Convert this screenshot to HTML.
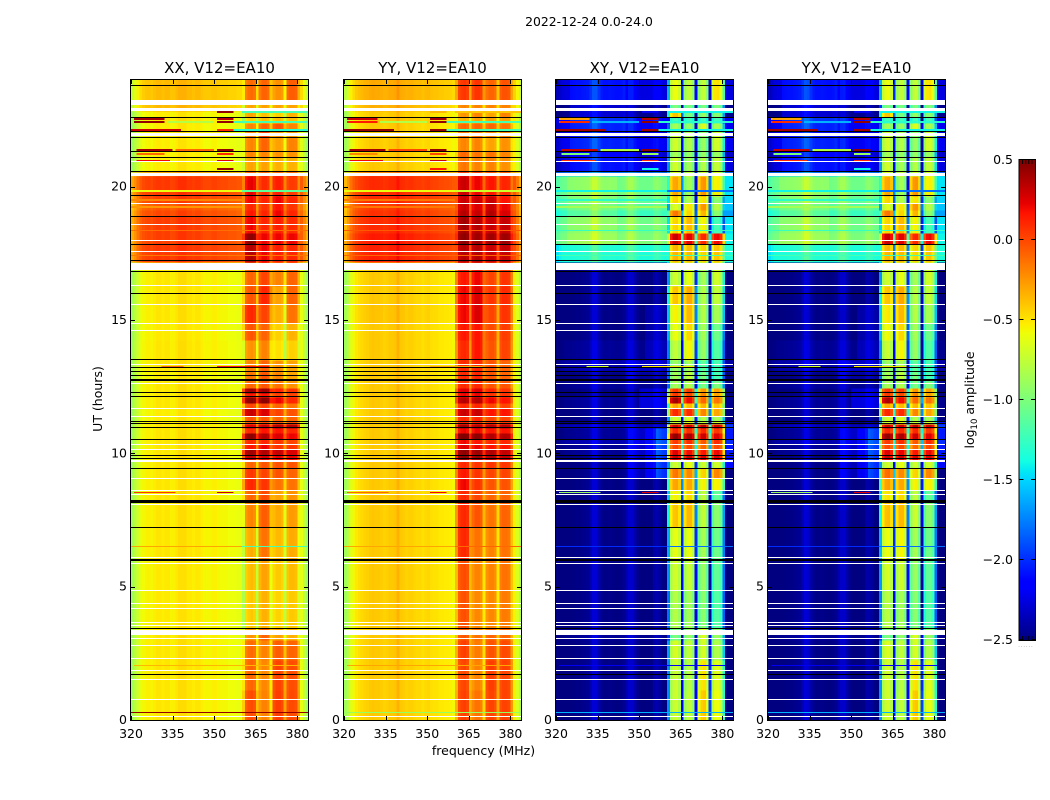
<!DOCTYPE html>
<html lang="en">
<head>
<meta charset="utf-8">
<title>2022-12-24 0.0-24.0</title>
<style>
html,body{margin:0;padding:0;background:#fff;}
svg{display:block;font-family:"DejaVu Sans","Liberation Sans",sans-serif;fill:#000;}
</style>
</head>
<body>
<svg id="chart" xmlns="http://www.w3.org/2000/svg" width="1050" height="800" viewBox="0 0 1050 800">
<rect x="0" y="0" width="1050" height="800" fill="#fff"/>
<text x="589" y="26" font-size="12.4" text-anchor="middle">2022-12-24 0.0-24.0</text>
<text x="483.5" y="755" font-size="12.5" text-anchor="middle">frequency (MHz)</text>
<text transform="translate(102,399) rotate(-90)" font-size="12.5" text-anchor="middle">UT (hours)</text>
<text transform="translate(974,400) rotate(-90)" font-size="12.5" text-anchor="middle">log<tspan font-size="8.5" dy="3">10</tspan><tspan dy="-3"> amplitude</tspan></text>
<g id="panels"></g>
<g id="colorbar"></g>
</svg>
<script>
// ---------- axis data ----------
const panelTitles = ['XX, V12=EA10', 'YY, V12=EA10', 'XY, V12=EA10', 'YX, V12=EA10'];
const freqTicks = [320, 335, 350, 365, 380];
const utTicks = [0, 5, 10, 15, 20];
const colorbarTicks = [0.5, 0.0, -0.5, -1.0, -1.5, -2.0, -2.5];
const freqDomain = [320, 383.8];
const utDomain = [0, 24];
const colorDomain = [-2.5, 0.5];

// channel centres start (MHz)
const channelsMHz = [320,321,322,323,324,325,326,327,328,329,330,331,332,333,334,335,336,337,338,339,340,341,342,343,344,345,346,347,348,349,350,351,352,353,354,355,356,357,358,359,360,361,362,363,364,365,366,367,368,369,370,371,372,373,374,375,376,377,378,379,380,381,382,383];
// first channel of sub-bands A, B, C, D and of the upper edge
const subbandStarts = [360, 366, 371, 376, 381];

// UT (hours) at which each time block starts
const utRowStarts = [0,1.125,2.25,3,3.45,4.875,6,7.2375,8.25,8.625,9.075,9.45,9.75,9.9375,10.1625,10.35,10.5375,10.7625,10.95,11.1,11.2125,11.4,11.7,11.8875,12.1125,12.2625,12.45,12.7125,13.05,13.5,14.25,14.8875,15.6,16.275,16.875,17.175,17.85,18.2625,18.9,19.125,19.3875,19.65,20.4,20.55,21.1125,21.3375,21.8625,22.0875,22.3875,22.6125,22.8375,23.0625,23.25];

// log10 amplitude per time block: [low band, A, B, C, D]
const levelsXX = [
[-.56,-.02,-.2,.02,-.02],[-.56,-.1,-.22,0,-.03],[-.56,-.12,-.2,-.08,-.1],[-.56,-.25,-.1,-.3,-.35],[-.57,-.42,-.35,-.46,-.43],
[-.57,-.38,-.3,-.43,-.38],[-.56,-.33,-.15,-.38,-.33],[-.56,-.2,-.08,-.33,-.28],[-.56,-.1,-.02,-.3,-.25],[-.56,.1,.05,-.15,-.15],
[-.56,.05,0,-.05,-.1],[-.56,-.1,-.05,-.05,-.05],[-.56,.3,.25,.2,.2],[-.56,.4,.35,.3,.25],[-.56,.15,.2,.05,.05],
[-.56,.1,.1,.05,0],[-.56,.45,.35,.25,.2],[-.56,.1,.15,.15,.1],[-.56,.25,.3,.35,.35],[-.56,-.05,-.05,-.05,-.05],
[-.58,-.05,-.05,-.1,-.1],[-.58,.3,.25,0,-.05],[-.56,0,0,-.1,-.15],[-.56,.45,.45,.2,.1],[-.56,.15,.15,0,0],
[-.56,.4,.4,.1,.05],[-.56,-.1,-.05,-.15,-.25],[-.58,-.15,-.05,-.2,-.3],[-.56,-.2,-.1,-.25,-.3],[-.56,-.25,-.2,-.5,-.45],
[-.57,-.05,-.1,-.45,-.35],[-.56,.1,0,-.35,-.15],[-.56,-.05,.1,-.3,-.1],[-.56,-.1,0,-.2,-.1],[-.56,-.1,0,-.2,-.1],
[0,.35,.2,.12,.1],[-.02,.45,.2,.2,.2],[-.02,.2,.1,.12,.08],[-.05,.15,.1,.2,.1],[-.1,.1,.05,.15,.05],
[-.03,.2,.1,.2,.1],[0,.22,.08,.12,.03],[-.1,.1,.1,.1,.1],[-.58,-.3,-.3,-.35,-.35],[-.58,-.2,-.2,-.25,-.25],
[-.58,-.2,-.1,-.3,-.2],[-.56,-.2,0,-.25,-.25],[-.58,-.2,-.1,-.05,-.2],[-.56,-.45,-.4,-.4,-.4],[-.58,-.3,-.4,-.45,-.35],
[-.42,-.3,-.3,-.3,-.3],[-.42,-.3,-.3,-.3,-.3],[-.42,-.12,-.1,-.25,-.08]];
const levelsYY = [
[-.46,.02,-.15,0,0],[-.46,0,-.2,.02,0],[-.46,.02,-.18,-.05,-.02],[-.46,-.05,-.15,-.1,-.1],[-.46,-.03,-.22,-.22,-.18],
[-.46,-.02,-.2,-.2,-.15],[-.46,.1,-.15,-.2,-.15],[-.46,.1,-.05,-.15,-.1],[-.46,.1,0,-.1,-.1],[-.46,.2,.05,-.05,-.05],
[-.46,.15,.05,0,0],[-.46,.1,.05,.05,.05],[-.46,.45,.4,.35,.3],[-.46,.45,.4,.35,.3],[-.46,.25,.2,.15,.15],
[-.46,.2,.15,.1,.1],[-.46,.5,.45,.35,.35],[-.46,.2,.2,.15,.15],[-.46,.4,.35,.35,.35],[-.46,.1,.1,.05,.05],
[-.46,.1,.1,0,0],[-.46,.3,.3,.15,.15],[-.46,.1,.1,0,0],[-.46,.35,.35,.2,.15],[-.46,.2,.2,.05,.05],
[-.46,.25,.25,.1,.05],[-.46,.1,.1,-.05,-.05],[-.46,.1,.1,-.05,-.1],[-.46,.1,.1,-.05,-.1],[-.46,.1,.15,-.05,0],
[-.46,.15,.15,-.02,.02],[-.44,.2,.25,0,.05],[-.46,.2,.25,.05,.08],[-.46,.15,.2,0,.05],[-.46,.1,.1,0,0],
[.08,.35,.35,.3,.3],[.1,.45,.4,.4,.4],[.05,.4,.35,.3,.3],[.03,.35,.3,.35,.25],[0,.3,.25,.3,.2],
[.05,.3,.3,.3,.15],[.05,.3,.2,.15,.1],[0,.2,.2,.1,.1],[-.46,-.15,-.2,-.2,-.25],[-.46,-.1,-.15,-.15,-.2],
[-.46,-.2,-.2,-.3,-.25],[-.46,-.15,-.15,-.2,-.2],[-.46,-.1,-.1,-.1,-.15],[-.44,-.35,-.3,-.3,-.3],[-.46,-.25,-.2,-.3,-.2],
[-.38,-.2,-.2,-.2,-.2],[-.38,-.2,-.2,-.2,-.2],[-.36,.05,.05,-.1,-.05]];
const levelsXY = [
[-2.5,-.72,-.75,-.42,-.6],[-2.5,-.72,-.78,-.5,-.65],[-2.5,-.68,-.75,-.68,-.82],[-2.46,-1,-.9,-.65,-.9],[-2.5,-.8,-.85,-.95,-1.15],
[-2.5,-.7,-.72,-.9,-1.1],[-2.5,-.62,-.6,-.85,-1.05],[-2.5,-.4,-.35,-.75,-.95],[-2.5,-.55,-.45,-.75,-1.1],[-2.5,-.3,-.3,-.55,-.55],
[-2.5,-.15,-.2,-.45,-.2],[-2.5,-.7,-.6,-.7,-.7],[-2.5,.3,.3,.25,.25],[-2.46,.25,.2,.15,.2],[-2.46,0,0,-.1,0],
[-2.4,.05,.1,-.05,.1],[-2.46,.45,.4,.3,.25],[-2.46,.1,.1,.1,.05],[-2.35,.3,.3,.35,.3],[-2.5,-.7,-.6,-.7,-.7],
[-2.5,-.7,-.65,-.8,-.85],[-2.5,.1,.1,-.2,-.3],[-2.46,-.3,-.35,-.35,-.4],[-2.46,.4,.2,-.1,-.15],[-2.5,.05,0,-.2,-.3],
[-2.5,.05,.05,-.25,-.3],[-2.46,-.85,-.8,-1,-1],[-2.5,-.85,-.75,-1,-1.2],[-2.4,-.9,-.85,-1.1,-1.2],[-2.46,-.75,-.55,-.9,-1.15],
[-2.5,-.6,-.45,-.85,-1.05],[-2.5,-.55,-.35,-.8,-.85],[-2.5,-.4,-.3,-.8,-.75],[-2.5,-.7,-.6,-.85,-.7],[-2.5,-.7,-.7,-.8,-.7],
[-1.35,-.35,-.35,-.45,-.4],[-1,.3,.25,.1,.2],[-1.05,-.45,-.35,-.55,-1.2],[-1.25,-.15,-.45,-.35,-.95],[-1.15,-.65,-.5,-.25,-.8],
[-1.1,-.45,-.8,-.5,-.95],[-1.05,-.3,-.85,-.25,-.55],[-1.5,-.6,-.6,-.6,-.6],[-2.25,-.7,-.85,-.8,-.75],[-2.3,-.85,-.9,-.9,-.9],
[-2.2,-.7,-.8,-.9,-.7],[-2.25,-.7,-.8,-.9,-.7],[-2.2,-.85,-.9,-.65,-.85],[-2.15,-1.2,-1.2,-1.2,-1.2],[-2.46,-.4,-1,-.9,-.95],
[-2.46,-1,-1,-1,-1],[-2.46,-1,-1,-1,-1],[-2.25,-.6,-.75,-.75,-.5]];
const levelsYX = [
[-2.5,-.7,-.75,-.42,-.62],[-2.5,-.7,-.78,-.5,-.65],[-2.5,-.66,-.75,-.68,-.82],[-2.46,-1,-.9,-.65,-.9],[-2.5,-.78,-.85,-.95,-1.15],
[-2.5,-.68,-.7,-.9,-1.1],[-2.5,-.6,-.55,-.85,-1.05],[-2.5,-.38,-.35,-.72,-.95],[-2.5,-.5,-.45,-.75,-1.1],[-2.5,-.28,-.3,-.55,-.55],
[-2.5,-.12,-.2,-.45,-.2],[-2.5,-.7,-.6,-.7,-.7],[-2.5,.3,.3,.25,.25],[-2.46,.25,.22,.15,.2],[-2.46,0,0,-.1,0],
[-2.4,.05,.1,-.05,.1],[-2.46,.45,.4,.3,.25],[-2.46,.1,.1,.1,.05],[-2.35,.3,.3,.35,.3],[-2.5,-.7,-.6,-.7,-.7],
[-2.5,-.7,-.65,-.8,-.85],[-2.5,.1,.1,-.2,-.3],[-2.46,-.3,-.35,-.35,-.4],[-2.46,.38,.2,-.1,-.15],[-2.5,.05,0,-.2,-.3],
[-2.5,.05,.05,-.25,-.3],[-2.46,-.85,-.8,-1,-1],[-2.5,-.85,-.75,-1,-1.2],[-2.4,-.9,-.85,-1.1,-1.2],[-2.46,-.72,-.55,-.9,-1.15],
[-2.5,-.58,-.45,-.85,-1.05],[-2.5,-.52,-.35,-.8,-.85],[-2.5,-.4,-.3,-.78,-.75],[-2.5,-.7,-.6,-.85,-.7],[-2.5,-.7,-.7,-.8,-.7],
[-1.35,-.35,-.35,-.45,-.4],[-1,.3,.25,.1,.2],[-1.05,-.45,-.35,-.55,-1.2],[-1.25,-.15,-.45,-.35,-.95],[-1.15,-.65,-.5,-.25,-.8],
[-1.1,-.45,-.8,-.5,-.95],[-1.05,-.3,-.85,-.25,-.55],[-1.5,-.6,-.6,-.6,-.6],[-2.25,-.7,-.85,-.8,-.75],[-2.3,-.85,-.9,-.9,-.9],
[-2.2,-.7,-.8,-.9,-.7],[-2.25,-.7,-.8,-.9,-.7],[-2.2,-.85,-.9,-.65,-.85],[-2.15,-1.2,-1.2,-1.2,-1.2],[-2.46,-.4,-1,-.9,-.95],
[-2.46,-1,-1,-1,-1],[-2.46,-1,-1,-1,-1],[-2.25,-.6,-.75,-.75,-.5]];

// per-channel bandpass offset from the block level (log10)
const bandpassXX = [-.3,-.22,-.12,-.05,0,.02,.03,.01,.04,.06,.06,.04,.06,.06,.02,.03,.06,.09,.09,.09,.06,.06,.04,.06,.06,.03,.01,.01,.01,.03,.03,.01,0,0,0,-.02,-.02,-.02,-.04,-.04,-.4,-.05,0,.02,-.02,-.35,-.05,.02,.02,-.02,-.3,-.03,.02,.02,-.02,-.3,-.02,.02,.02,0,-.25,-.05,-.18,-.3];
const bandpassYY = [-.4,-.3,-.18,-.1,-.05,-.02,0,.02,.03,.05,.06,.05,.05,.04,.02,.03,.05,.05,.06,.12,.05,.04,.02,.03,.03,.01,0,0,-.02,0,.01,-.02,-.03,-.03,-.05,-.05,-.06,-.06,-.08,-.1,-.35,-.05,0,.02,-.02,-.35,-.05,.02,.02,-.02,-.3,-.03,.02,.02,-.02,-.3,-.02,.02,.02,0,-.25,-.08,-.2,-.38];
const bandpassXY = [-.1,-.05,-.02,0,0,0,.01,.02,.02,.03,.04,.05,.12,.22,.22,.12,.04,.02,.02,.03,.02,.01,.01,.02,.05,.12,.2,.2,.12,.03,0,0,0,0,.02,.1,.12,.07,.02,0,-1,-.15,0,.02,-.1,-1.4,-.15,0,0,-.15,-1.4,-.2,0,.02,-.2,-1.5,-.2,0,.02,-.1,-.7,0,0,0];
const bandpassYX = [-.1,-.05,-.02,0,0,0,.01,.02,.02,.03,.04,.06,.13,.22,.2,.11,.04,.02,.02,.03,.02,.01,.01,.02,.05,.12,.19,.2,.12,.03,0,0,0,0,.02,.1,.11,.07,.02,0,-1,-.15,0,.02,-.1,-1.4,-.15,0,0,-.15,-1.4,-.2,0,.02,-.2,-1.5,-.2,0,.02,-.1,-.7,0,0,0];

// diffuse cross-hand emission: [UT start, UT end, MHz start, MHz end, added log10]
const crossHaze = [
[8.7,10.9,346,352,.15],[8.7,10.9,352,356,.3],[8.7,10.9,356,360,.5],[9.4,11.2,381,384,.4],
[11.7,12.3,350,360,.2],[13.5,14.9,352,360,.1],[12.7,13.5,345,360,.08],
[17.2,20.4,381,384,-.4],[17.85,20.4,324,342,.1],[20.5,24,325,345,.15]];

// narrow interference streaks: [UT, MHz start, MHz end, XX, YY, XY and YX]
const rfiStreaks = [
[.29,320,384,.45,-.9,-1.6],[2.03,321,381,-.35,-.3,-2.2],[6.49,320,360,-.3,-.3,-2.0],[6.49,360,384,-1.2,-.1,-1.8],
[8.52,321,336,.05,-.1,-.9],[8.52,351,357,.3,.2,.25],[13.27,331,339,-.1,-.4,-.7],[13.27,351,370,.15,-.3,-.5],
[17.43,320,384,-.15,-.1,-1.2],[18.35,320,384,-.12,-.05,-1.25],[19.25,320,360,-.25,-.15,-.85],[19.5,320,360,-.2,-.15,-1.3],
[19.83,320,360,-.6,-.6,-1.4],[19.83,360,384,-1.1,-.7,-1.8],[20.65,351,357,.45,.15,-1.4],
[20.96,322,334,.2,.2,.1],[20.96,351,357,.25,.3,.1],[21.21,322,332,-.1,-.2,-1],[21.21,351,357,.1,0,-.9],
[21.36,322,335,.4,.4,.3],[21.36,336,350,-.1,0,-.8],[21.36,351,357,.45,.45,.45],[22.11,320,338,.3,.45,.4],
[22.11,351,357,.1,.45,.4],[22.11,357,384,-1.3,-1.2,-1.4],[22.43,321,332,.45,.15,.1],[22.43,333,350,-.8,-.8,-1.6],
[22.43,351,357,.45,.45,.45],[22.43,357,384,-1.2,-1.2,-1.3],[22.52,321,332,.4,.3,-.3],[22.52,351,357,.35,.4,.35],
[22.81,351,357,.45,-.35,-2.2],[22.81,360,384,-1.2,-.4,-1.4]];

// flagged (blank) time ranges: [UT start, UT end]
const blankRanges = [
[.1,.14],[.75,.79],[1.51,1.55],[1.83,1.87],[2.3,2.34],[2.76,2.8],[3.02,3.06],[3.19,3.38],[3.53,3.57],[3.63,3.67],
[4.17,4.21],[4.36,4.4],[4.84,4.88],[5.85,5.89],[6.08,6.12],[8.07,8.11],[8.42,8.46],[8.58,8.62],[9.05,9.09],[9.66,9.75],
[10.13,10.17],[10.32,10.36],[11.37,11.41],[11.67,11.71],[12.58,12.62],[13.21,13.25],[13.32,13.36],[14.6,14.64],[14.86,14.9],[15.57,15.61],
[16.26,16.3],[16.88,17.15],[17.55,17.59],[17.97,18.01],[18.57,18.61],[19.35,19.39],[20.38,20.5],[20.91,20.95],[21.88,21.92],[21.97,22.03],
[22.84,22.96],[23.06,23.25]];

// thin black scan-boundary lines: UT centre and thickness in hours
const scanLineUT = [1.71,3.44,6,7.23,8.19,9.44,9.8,9.93,10.53,10.95,11.1,11.2,12.14,12.27,12.74,12.9,13.05,13.2,13.53,16,16.83,17.24,17.84,18.89,19.65,20.55,21.1,21.33,21.86,22.08,22.6,23.775];
const scanLineHours = [.04,.04,.06,.04,.13,.04,.04,.04,.04,.04,.04,.04,.04,.04,.07,.04,.04,.04,.04,.04,.04,.04,.04,.04,.04,.04,.04,.04,.04,.04,.04,.04];

// ---------- layout (not data) ----------
const panelLefts = [131, 344, 556, 768];
const panelWidth = 177;
const panelTop = 80;
const panelBottom = 720;
const SVGNS = 'http://www.w3.org/2000/svg';
const panelLevels = [levelsXX, levelsYY, levelsXY, levelsYX];
const panelBandpass = [bandpassXX, bandpassYY, bandpassXY, bandpassYX];

function xScale(panel, f) {
  return panelLefts[panel] + (f - freqDomain[0]) / (freqDomain[1] - freqDomain[0]) * panelWidth;
}
function yScale(ut) {
  return panelBottom - (ut - utDomain[0]) / (utDomain[1] - utDomain[0]) * (panelBottom - panelTop);
}
function lerpStops(stops, p) {
  for (let i = 1; i < stops.length; i++) {
    if (p <= stops[i][0]) {
      const a = stops[i - 1], b = stops[i];
      return a[1] + (b[1] - a[1]) * (p - a[0]) / (b[0] - a[0]);
    }
  }
  return stops[stops.length - 1][1];
}
const jetR = [[0,0],[.35,0],[.66,1],[.89,1],[1,.5]];
const jetG = [[0,0],[.125,0],[.375,1],[.64,1],[.91,0],[1,0]];
const jetB = [[0,.5],[.11,1],[.34,1],[.65,0],[1,0]];
function colorOf(v) {
  const p = Math.min(1, Math.max(0, (v - colorDomain[0]) / (colorDomain[1] - colorDomain[0])));
  const c = [jetR, jetG, jetB].map(s => Math.round(255 * lerpStops(s, p)));
  return 'rgb(' + c[0] + ',' + c[1] + ',' + c[2] + ')';
}
function sectionOf(f) {
  if (f >= subbandStarts[4] || f < subbandStarts[0]) return 0;
  if (f < subbandStarts[1]) return 1;
  if (f < subbandStarts[2]) return 2;
  if (f < subbandStarts[3]) return 3;
  return 4;
}
function make(tag, attrs, parent) {
  const el = document.createElementNS(SVGNS, tag);
  for (const k in attrs) el.setAttribute(k, attrs[k]);
  parent.appendChild(el);
  return el;
}

const panelsRoot = document.getElementById('panels');
panelTitles.forEach((title, p) => {
  const g = make('g', {}, panelsRoot);
  
  
  const x0 = panelLefts[p];
  const x1 = x0 + panelWidth;

  // heatmap cells
  const cells = make('g', {'shape-rendering': 'crispEdges'}, g);
  
  
  utRowStarts.forEach((ut, r) => {
    const utNext = r + 1 < utRowStarts.length ? utRowStarts[r + 1] : utDomain[1];
    channelsMHz.forEach((f, c) => {
      const fNext = c + 1 < channelsMHz.length ? channelsMHz[c + 1] : freqDomain[1];
      let v = panelLevels[p][r][sectionOf(f)] + panelBandpass[p][c];
      if (p >= 2) {
        crossHaze.forEach(h => {
          if (ut >= h[0] && ut < h[1] && f >= h[2] && f < h[3]) v += h[4];
        });
      }
      const cell = make('rect', {
        x: xScale(p, f).toFixed(2), y: yScale(utNext).toFixed(2),
        width: (xScale(p, fNext) - xScale(p, f) + .4).toFixed(2),
        height: (yScale(ut) - yScale(utNext) + .4).toFixed(2),
        fill: colorOf(v)
      }, cells);
      
      
    });
  });

  // interference streaks: hairlines below 19 h, broader during the evening block
  rfiStreaks.forEach(s => {
    const value = s[3 + Math.min(p, 2)];
    const thick = s[0] < 19 ? 1 : 2;
    const streak = make('rect', {
      x: xScale(p, s[1]).toFixed(2), y: Math.round(yScale(s[0]) - thick / 2),
      width: (Math.min(x1, xScale(p, s[2])) - xScale(p, s[1])).toFixed(2), height: thick,
      fill: colorOf(value)
    }, cells);
    
    
  });

  // blank flagged rows
  blankRanges.forEach(b => {
    const top = Math.round(yScale(b[1]));
    const blank = make('rect', {
      x: x0, y: top, width: panelWidth,
      height: Math.max(1, Math.round(yScale(b[0]) - yScale(b[1]))), fill: '#fff'
    }, cells);
    
    
  });

  // black scan lines
  scanLineUT.forEach((ut, i) => {
    const h = scanLineHours[i] / (utDomain[1] - utDomain[0]) * (panelBottom - panelTop);
    const line = make('rect', {
      x: x0, y: Math.round(yScale(ut) - h / 2), width: panelWidth, height: Math.max(1, Math.round(h)), fill: '#000'
    }, cells);
    
    
  });

  // frame
  const frame = make('rect', {
    x: x0 - .5, y: panelTop - .5, width: panelWidth + 1, height: panelBottom - panelTop + 1,
    fill: 'none', stroke: '#000', 'stroke-width': 1
  }, g);
  
  

  // x ticks
  freqTicks.forEach(t => {
    const x = Math.round(xScale(p, t)) + .5;
    const b = make('line', {x1: x, x2: x, y1: panelBottom, y2: panelBottom - 4, stroke: '#000'}, g);
    
    
    const tp = make('line', {x1: x, x2: x, y1: panelTop, y2: panelTop + 4, stroke: '#000'}, g);
    
    
    const label = make('text', {x: xScale(p, t), y: 738, 'font-size': 12.5, 'text-anchor': 'middle'}, g);
    
    
    label.textContent = String(t);
  });

  // y ticks
  utTicks.forEach(t => {
    const y = Math.round(yScale(t)) + .5;
    const l = make('line', {x1: x0, x2: x0 + 4, y1: y, y2: y, stroke: '#000'}, g);
    
    
    const r = make('line', {x1: x1, x2: x1 - 4, y1: y, y2: y, stroke: '#000'}, g);
    
    
    const label = make('text', {x: x0 - 4, y: yScale(t) + 4, 'font-size': 12.5, 'text-anchor': 'end'}, g);
    
    
    label.textContent = String(t);
  });

  const t = make('text', {x: x0 + panelWidth / 2, y: 73, 'font-size': 15, 'text-anchor': 'middle'}, g);
  
  
  t.textContent = title;
});

// ---------- colorbar ----------
const cbLeft = 1019.5, cbWidth = 15.5, cbTop = 160, cbBottom = 640;
const cb = document.getElementById('colorbar');
function cbY(v) {
  return cbBottom - (v - colorDomain[0]) / (colorDomain[1] - colorDomain[0]) * (cbBottom - cbTop);
}
const cbSteps = 240;
const cbRamp = make('g', {'shape-rendering': 'crispEdges'}, cb);


for (let i = 0; i < cbSteps; i++) {
  const v = colorDomain[0] + (colorDomain[1] - colorDomain[0]) * (i + .5) / cbSteps;
  const h = (cbBottom - cbTop) / cbSteps;
  const seg = make('rect', {x: cbLeft, y: (cbY(v) - h / 2).toFixed(2), width: cbWidth, height: h + .4, fill: colorOf(v)}, cbRamp);
  
  
}
const cbFrame = make('rect', {x: cbLeft - .5, y: cbTop - .5, width: cbWidth + 1, height: cbBottom - cbTop + 1, fill: 'none', stroke: '#000'}, cb);


colorbarTicks.forEach(v => {
  const y = Math.round(cbY(v)) - .5;
  const a = make('line', {x1: cbLeft, x2: cbLeft + 4, y1: y, y2: y, stroke: '#000'}, cb);
  
  
  const b = make('line', {x1: cbLeft + cbWidth, x2: cbLeft + cbWidth - 4, y1: y, y2: y, stroke: '#000'}, cb);
  
  
  const label = make('text', {x: 1013, y: cbY(v) + 4, 'font-size': 12.5, 'text-anchor': 'end'}, cb);
  
  
  label.textContent = (v < 0 ? '\u2212' : '') + Math.abs(v).toFixed(1);
});
for (let i = 1; i < 5; i++) {
  const x = cbLeft + i * cbWidth / 5;
  const t = make('line', {x1: x, x2: x, y1: cbTop, y2: cbTop + 4, stroke: '#000'}, cb);
  
  
  const u = make('line', {x1: x, x2: x, y1: cbBottom, y2: cbBottom - 4, stroke: '#000'}, cb);
  
  
}
const cbDots = make('text', {x: 1026, y: 647, 'font-size': 5, 'letter-spacing': 1, 'text-anchor': 'middle', fill: '#777'}, cb);


cbDots.textContent = '......';
</script>
</body>
</html>
